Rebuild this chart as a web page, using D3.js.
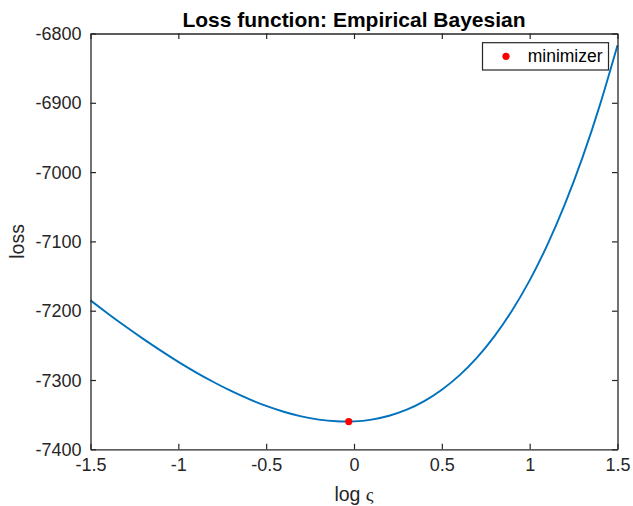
<!DOCTYPE html>
<html>
<head>
<meta charset="utf-8">
<script src="https://cdn.jsdelivr.net/npm/d3@7"></script>
<style>
  html, body { margin: 0; padding: 0; background: #fff; }
  svg { display: block; font-family: "Liberation Sans", Arial, Helvetica, sans-serif; }
</style>
</head>
<body>
<svg id="chart" width="633" height="506"></svg>
<script>
// ---- data ----
const logSigma = [-1.5, -1.4, -1.3, -1.2, -1.1, -1.0, -0.9, -0.8, -0.7, -0.6, -0.5, -0.4, -0.3, -0.2, -0.1,
                  0.0, 0.1, 0.2, 0.3, 0.4, 0.5, 0.6, 0.7, 0.8, 0.9, 1.0, 1.1, 1.2, 1.3, 1.4, 1.5];
const lossValues = [-7185.1, -7204.3, -7222.9, -7240.7, -7257.6, -7273.8, -7288.9, -7302.9, -7315.8, -7327.3,
                    -7337.4, -7345.8, -7352.5, -7357.1, -7359.6, -7359.7, -7357.1, -7351.6, -7342.8, -7330.4,
                    -7314.0, -7293.3, -7267.6, -7236.6, -7199.7, -7156.2, -7105.4, -7046.7, -6979.5, -6903.0, -6817.0];
const minimizerX = [-0.03];
const minimizerY = [-7360];
const xTicks = [-1.5, -1, -0.5, 0, 0.5, 1, 1.5];
const yTicks = [-7400, -7300, -7200, -7100, -7000, -6900, -6800];
const titleText = "Loss function: Empirical Bayesian";
const yLabelText = "loss";
const legendText = "minimizer";

(function () {
// ---- layout ----
const mLeft = 90.5, mRight = 617.5, mTop = 33.5, mBottom = 449.3;
const axisColor = "#262626";
const svg = d3.select("#chart");

const x = d3.scaleLinear().domain([-1.5, 1.5]).range([mLeft, mRight]);
const y = d3.scaleLinear().domain([-7400, -6800]).range([mBottom, mTop]);

const fmt = d => String(d).replace("\u2212", "-");

// data layer
const pts = logSigma.map((d, i) => [d, lossValues[i]]);
svg.append("path")
  .datum(pts)
  .attr("fill", "none")
  .attr("stroke", "#0072BD")
  .attr("stroke-width", 1.9)
  .attr("d", d3.line().x(d => x(d[0])).y(d => y(d[1])).curve(d3.curveNatural));

svg.selectAll("circle.min")
  .data(minimizerX.map((d, i) => [d, minimizerY[i]]))
  .join("circle")
  .attr("class", "min")
  .attr("cx", d => x(d[0]))
  .attr("cy", d => y(d[1]))
  .attr("r", 3.6)
  .attr("fill", "#FF0000");

// axes
const tickLen = 5.5;
const bx = svg.append("g").attr("transform", `translate(0,${mBottom})`)
  .call(d3.axisBottom(x).tickValues(xTicks).tickSizeInner(-tickLen).tickSizeOuter(0).tickPadding(9).tickFormat(fmt));
const tx = svg.append("g").attr("transform", `translate(0,${mTop})`)
  .call(d3.axisTop(x).tickValues(xTicks).tickSizeInner(-tickLen).tickSizeOuter(0).tickFormat(""));
const ly = svg.append("g").attr("transform", `translate(${mLeft},0)`)
  .call(d3.axisLeft(y).tickValues(yTicks).tickSizeInner(-tickLen).tickSizeOuter(0).tickPadding(9).tickFormat(fmt));
const ry = svg.append("g").attr("transform", `translate(${mRight},0)`)
  .call(d3.axisRight(y).tickValues(yTicks).tickSizeInner(-tickLen).tickSizeOuter(0).tickFormat(""));

[bx, tx, ly, ry].forEach(g => {
  g.select(".domain").attr("stroke", axisColor).attr("stroke-width", 1.3);
  g.selectAll(".tick line").attr("stroke", axisColor).attr("stroke-width", 1.2);
  g.selectAll(".tick text").attr("fill", axisColor)
    .attr("font-family", "'Liberation Sans', Arial, sans-serif").attr("font-size", 18);
});
ly.selectAll(".tick text").attr("dy", "0.34em");
bx.selectAll(".tick text").attr("dy", "0.72em");

// title
svg.append("text")
  .attr("x", (mLeft + mRight) / 2).attr("y", 26.5)
  .attr("text-anchor", "middle")
  .attr("font-weight", "bold").attr("font-size", 21)
  .attr("fill", "#000")
  .text(titleText);

// x label: "log ς"
const xl = svg.append("text")
  .attr("x", (mLeft + mRight) / 2).attr("y", 500.5)
  .attr("text-anchor", "middle")
  .attr("fill", axisColor).attr("font-size", 19.5);
xl.append("tspan").text("log ");
xl.append("tspan").attr("font-family", "'Liberation Serif', 'Times New Roman', serif").text("\u03C2");

// y label
svg.append("text")
  .attr("transform", `translate(23.5,${(mTop + mBottom) / 2}) rotate(-90)`)
  .attr("text-anchor", "middle")
  .attr("fill", axisColor).attr("font-size", 19.5)
  .text(yLabelText);

// legend
const lg = svg.append("g");
lg.append("rect")
  .attr("x", 482.5).attr("y", 42.7).attr("width", 126).attr("height", 27.3)
  .attr("fill", "#fff").attr("stroke", axisColor).attr("stroke-width", 1.2);
lg.append("circle").attr("cx", 506).attr("cy", 56.3).attr("r", 3.6).attr("fill", "#FF0000");
lg.append("text").attr("x", 527.7).attr("y", 62.3)
  .attr("fill", "#000").attr("font-size", 17.5).text(legendText);
})();
</script>
</body>
</html>
